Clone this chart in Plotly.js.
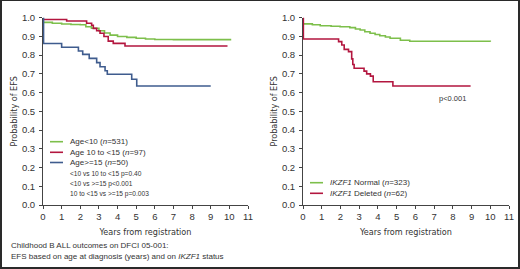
<!DOCTYPE html>
<html>
<head>
<meta charset="utf-8">
<script src="https://cdn.plot.ly/plotly-3.0.1.min.js"></script>
<style>
html,body{margin:0;padding:0;background:#fff;}
#wrap{position:relative;width:520px;height:269px;}
#chart{width:520px;height:269px;}
#frame{position:absolute;left:0;top:0;width:520px;height:269px;box-sizing:border-box;border:2px solid #2a2a2a;border-top-width:1px;pointer-events:none;}
</style>
</head>
<body>
<div id="wrap"><div id="chart"></div><div id="frame"></div></div>
<script>
// ---- Data ----
const ageLt10Years = [0, 0.5, 1.0, 1.5, 2.0, 2.3, 2.6, 3.0, 3.3, 3.6, 4.0, 4.5, 5.0, 5.5, 6.0, 7.0, 10.1];
const ageLt10Surv  = [0.975, 0.97, 0.966, 0.964, 0.962, 0.952, 0.944, 0.93, 0.918, 0.907, 0.9, 0.895, 0.89, 0.886, 0.884, 0.883, 0.883];

const age10to15Years = [0, 1.27, 2.34, 2.61, 2.70, 2.88, 3.06, 3.27, 3.5, 3.77, 4.4, 9.9];
const age10to15Surv  = [0.99, 0.982, 0.97, 0.96, 0.943, 0.93, 0.917, 0.90, 0.875, 0.863, 0.849, 0.849];

const ageGe15Years = [0, 0.03, 1.0, 1.9, 2.13, 2.48, 2.88, 3.06, 3.33, 3.45, 4.76, 5.03, 9.0];
const ageGe15Surv  = [1.0, 0.862, 0.842, 0.822, 0.804, 0.783, 0.76, 0.738, 0.717, 0.698, 0.671, 0.635, 0.635];

const ikzfNormalYears = [0, 0.5, 0.92, 1.5, 1.98, 2.5, 2.8, 3.05, 3.3, 3.58, 3.85, 4.1, 4.4, 4.65, 5.2, 5.7, 10.0];
const ikzfNormalSurv  = [0.967, 0.962, 0.957, 0.954, 0.952, 0.947, 0.94, 0.934, 0.925, 0.917, 0.91, 0.904, 0.897, 0.89, 0.88, 0.874, 0.872];

const ikzfDeletedYears = [0, 0.02, 1.9, 2.07, 2.2, 2.43, 2.6, 2.66, 2.73, 3.26, 3.4, 3.6, 3.75, 4.8, 8.95];
const ikzfDeletedSurv  = [1.0, 0.886, 0.872, 0.854, 0.831, 0.819, 0.78, 0.75, 0.73, 0.715, 0.70, 0.688, 0.658, 0.635, 0.635];

const leftLegend  = ['Age&lt;10 (<i>n</i>=531)', 'Age 10 to &lt;15 (<i>n</i>=97)', 'Age&gt;=15 (<i>n</i>=50)'];
const pTexts      = ['&lt;10 vs 10 to &lt;15 p=0.40', '&lt;10 vs &gt;=15 p&lt;0.001', '10 to &lt;15 vs &gt;=15 p=0.003'];
const rightLegend = ['<i>IKZF1</i> Normal (<i>n</i>=323)', '<i>IKZF1</i> Deleted (<i>n</i>=62)'];
const rightP      = 'p&lt;0.001';
const xTicks = [0,1,2,3,4,5,6,7,8,9,10,11];
const yTicks = [0,0.1,0.2,0.3,0.4,0.5,0.6,0.7,0.8,0.9,1.0];
const captionLines = ['Childhood B ALL outcomes on DFCI 05-001:', 'EFS based on age at diagnosis (years) and on <i>IKZF1</i> status'];

// ---- Styling ----
const W = 520, H = 269;
const GREEN = '#7dbf4b', RED = '#b3163f', BLUE = '#3f5c8e';
const px = x => x / W;
const py = y => 1 - y / H;
const FONT = 'Liberation Sans, Arial, sans-serif';
const NARROW = 'DejaVu Sans Condensed, Liberation Sans Narrow, Arial Narrow, Liberation Sans, sans-serif';

function km(x, y, color, xa, ya) {
  return {x: x, y: y, type: 'scatter', mode: 'lines', line: {shape: 'hv', color: color, width: 1.6},
          xaxis: xa, yaxis: ya, showlegend: false, hoverinfo: 'skip'};
}
const traces = [
  km(ageLt10Years, ageLt10Surv, GREEN, 'x', 'y'),
  km(age10to15Years, age10to15Surv, RED, 'x', 'y'),
  km(ageGe15Years, ageGe15Surv, BLUE, 'x', 'y'),
  km(ikzfNormalYears, ikzfNormalSurv, GREEN, 'x2', 'y2'),
  km(ikzfDeletedYears, ikzfDeletedSurv, RED, 'x2', 'y2')
];

const yDom = [py(205), py(17.7)];
function xAxis(dom) {
  return {domain: dom, range: [0, 11], tickvals: xTicks, ticktext: xTicks.map(String),
    showline: true, linecolor: '#444', linewidth: 1, ticks: 'outside', ticklen: 3, tickcolor: '#444',
    showgrid: false, zeroline: false, tickfont: {family: FONT, size: 9.5, color: '#333'},
    title: {text: 'Years from registration', font: {family: NARROW, size: 9, color: '#333'}, standoff: 7}};
}
function yAxis(anchor) {
  return {domain: yDom, range: [0, 1.0], tickvals: yTicks, ticktext: yTicks.map(v => v.toFixed(1)),
    anchor: anchor, showline: true, linecolor: '#444', linewidth: 1, ticks: 'outside', ticklen: 3, tickcolor: '#444',
    showgrid: false, zeroline: false, tickfont: {family: FONT, size: 9.5, color: '#333'}, ticklabelstandoff: 2,
    title: {text: 'Probability of EFS', font: {family: NARROW, size: 9, color: '#333'}, standoff: 2}};
}

const shapes = [];
const annotations = [];
const leftColors = [GREEN, RED, BLUE];
const leftRows = [141.7, 152.3, 162.5];
leftLegend.forEach((t, i) => {
  shapes.push({type: 'line', xref: 'paper', yref: 'paper', x0: px(50), x1: px(63), y0: py(leftRows[i]), y1: py(leftRows[i]),
               line: {color: leftColors[i], width: 1.6}});
  annotations.push({xref: 'paper', yref: 'paper', x: px(67.5), y: py(leftRows[i]), xanchor: 'left', yanchor: 'middle',
                    text: t, showarrow: false, font: {family: FONT, size: 8, color: '#333'}});
});
const pRows = [173.5, 183.5, 193.5];
pTexts.forEach((t, i) => {
  annotations.push({xref: 'paper', yref: 'paper', x: px(67.5), y: py(pRows[i]), xanchor: 'left', yanchor: 'middle',
                    text: t, showarrow: false, font: {family: FONT, size: 6.6, color: '#333'}});
});
const rightColors = [GREEN, RED];
const rightRows = [182.7, 193.3];
rightLegend.forEach((t, i) => {
  shapes.push({type: 'line', xref: 'paper', yref: 'paper', x0: px(310), x1: px(323), y0: py(rightRows[i]), y1: py(rightRows[i]),
               line: {color: rightColors[i], width: 1.6}});
  annotations.push({xref: 'paper', yref: 'paper', x: px(327.5), y: py(rightRows[i]), xanchor: 'left', yanchor: 'middle',
                    text: t, showarrow: false, font: {family: FONT, size: 8, color: '#333'}});
});
annotations.push({xref: 'paper', yref: 'paper', x: px(452), y: py(98), xanchor: 'center', yanchor: 'middle',
                  text: rightP, showarrow: false, font: {family: FONT, size: 7.5, color: '#333'}});
captionLines.forEach((t, i) => {
  annotations.push({xref: 'paper', yref: 'paper', x: px(9), y: py(245.5 + i * 10.5), xanchor: 'left', yanchor: 'middle',
                    text: t, showarrow: false, font: {family: FONT, size: 8, color: '#333'}});
});

const layout = {
  width: W, height: H, margin: {l: 0, r: 0, t: 0, b: 0},
  paper_bgcolor: '#fff', plot_bgcolor: '#fff', showlegend: false,
  xaxis: xAxis([px(43), px(248)]), yaxis: yAxis('x'),
  xaxis2: Object.assign(xAxis([px(303), px(509)]), {anchor: 'y2'}), yaxis2: yAxis('x2'),
  shapes: shapes, annotations: annotations
};
layout.xaxis.anchor = 'y';
Plotly.newPlot('chart', traces, layout, {staticPlot: true, displayModeBar: false});
</script>
</body>
</html>
